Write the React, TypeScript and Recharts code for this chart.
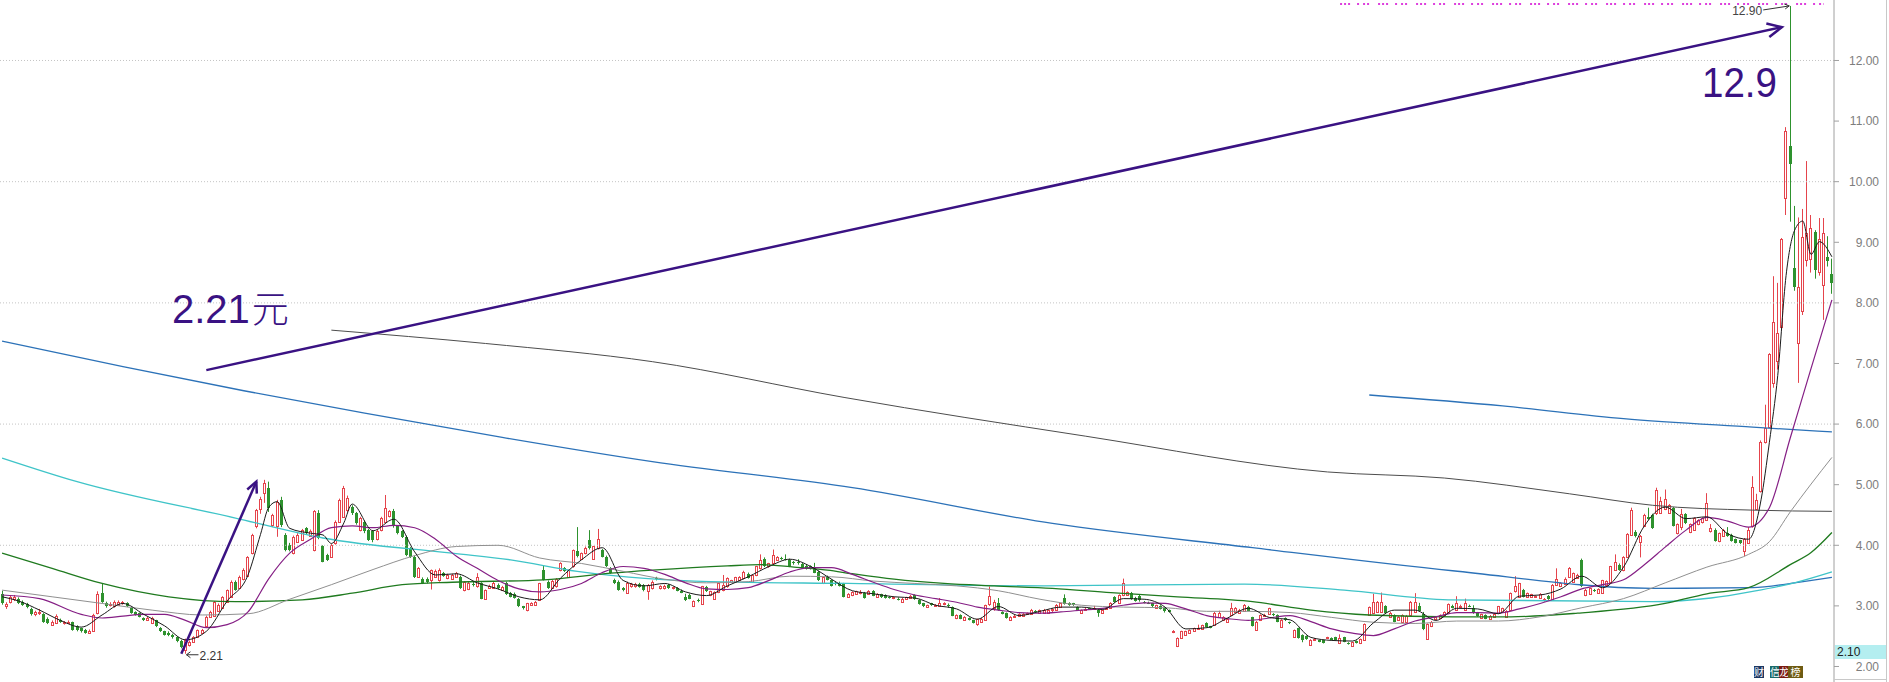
import React from 'react';
import { ComposedChart, Bar, Line, XAxis, YAxis, ReferenceLine, ReferenceDot } from 'recharts';

type Candle = [number, number, number, number]; // open, high, low, close
type Pt = [number, number]; // candle index, value

// daily candles left to right
const candlesA: Candle[] = [
  [3.20,3.25,3.02,3.05],[3.00,3.06,2.95,3.03],[3.06,3.17,3.04,3.14],[3.12,3.18,3.08,3.15],[3.12,3.14,3.03,3.05],
  [3.06,3.09,3.00,3.02],[3.03,3.05,2.96,2.98],[2.95,2.97,2.84,2.86],[2.86,2.92,2.83,2.90],[2.88,2.95,2.85,2.90],
  [2.87,2.88,2.72,2.74],[2.79,2.81,2.70,2.72],[2.69,2.76,2.67,2.74],[2.72,2.86,2.70,2.84],[2.77,2.79,2.72,2.74],
  [2.71,2.75,2.69,2.73],[2.73,2.76,2.71,2.74],[2.73,2.74,2.59,2.61],[2.66,2.68,2.58,2.60],[2.63,2.64,2.56,2.58],
  [2.61,2.62,2.54,2.56],[2.56,2.61,2.55,2.59],[2.58,2.87,2.57,2.85],[2.88,3.24,2.86,3.20],[3.21,3.37,3.05,3.07],
  [3.05,3.07,2.97,2.99],[3.01,3.06,2.99,3.03],[2.99,3.09,2.97,3.07],[3.02,3.09,3.00,3.07],[3.04,3.08,3.02,3.06],
  [3.05,3.06,2.98,3.00],[2.97,2.98,2.87,2.88],[2.90,2.91,2.84,2.85],[2.88,2.89,2.81,2.82],[2.80,2.81,2.75,2.76],
  [2.76,2.82,2.75,2.80],[2.72,2.82,2.70,2.80],[2.76,2.77,2.65,2.66],[2.64,2.65,2.57,2.58],[2.58,2.59,2.51,2.52],
  [2.56,2.58,2.50,2.52],[2.52,2.54,2.46,2.48],[2.48,2.50,2.40,2.42],[2.42,2.44,2.30,2.32],[2.27,2.46,2.21,2.44],
  [2.36,2.43,2.33,2.41],[2.41,2.50,2.39,2.49],[2.49,2.61,2.47,2.60],[2.56,2.62,2.55,2.60],[2.66,2.84,2.64,2.82],
];
const candlesB: Candle[] = [
  [2.82,2.92,2.80,2.90],[2.84,3.08,2.82,3.06],[2.92,3.04,2.90,3.02],[2.96,3.16,2.95,3.15],[3.07,3.27,3.06,3.26],
  [3.15,3.42,3.14,3.40],[3.40,3.42,3.25,3.27],[3.30,3.50,3.28,3.48],[3.45,3.62,3.42,3.59],[3.50,3.82,3.48,3.80],
  [3.87,4.19,3.85,4.17],[4.31,4.60,4.28,4.58],[4.60,4.80,4.52,4.76],[4.86,5.08,4.70,5.02],[4.95,5.05,4.55,4.62],
  [4.34,4.52,4.30,4.50],[4.31,4.75,4.14,4.72],[4.75,4.80,4.30,4.34],[4.17,4.20,3.90,3.92],[4.00,4.04,3.90,3.92],
  [3.87,4.16,3.85,4.14],[4.06,4.20,4.04,4.17],[4.09,4.27,4.07,4.25],[4.28,4.30,4.18,4.20],[4.16,4.26,4.14,4.24],
  [3.92,4.58,3.90,4.56],[4.53,4.58,4.10,4.12],[3.98,4.00,3.72,3.73],[3.84,3.86,3.74,3.76],[3.81,4.02,3.79,4.00],
  [4.03,4.41,4.01,4.39],[4.39,4.77,4.37,4.75],[4.47,4.98,4.45,4.94],[4.58,4.82,4.55,4.78],[4.64,4.66,4.50,4.53],
  [4.53,4.55,4.34,4.36],[4.25,4.47,4.23,4.45],[4.39,4.41,4.20,4.23],[4.25,4.27,4.07,4.09],[4.23,4.25,4.05,4.08],
  [4.10,4.26,4.08,4.24],[4.25,4.47,4.23,4.45],[4.39,4.83,4.37,4.61],[4.48,4.58,4.46,4.56],[4.56,4.60,4.29,4.31],
  [4.31,4.33,4.18,4.20],[4.23,4.25,4.12,4.14],[4.14,4.16,3.82,3.84],[3.95,3.97,3.79,3.81],[3.81,3.83,3.46,3.48],
];
const candlesC: Candle[] = [
  [3.48,3.64,3.46,3.62],[3.45,3.47,3.36,3.37],[3.45,3.47,3.37,3.40],[3.43,3.60,3.27,3.59],[3.48,3.60,3.46,3.58],
  [3.42,3.62,3.40,3.60],[3.54,3.56,3.48,3.50],[3.46,3.53,3.44,3.51],[3.45,3.53,3.43,3.51],[3.48,3.56,3.46,3.54],
  [3.48,3.50,3.28,3.29],[3.26,3.41,3.24,3.40],[3.28,3.40,3.26,3.38],[3.36,3.40,3.32,3.34],[3.32,3.54,3.30,3.47],
  [3.37,3.39,3.11,3.12],[3.11,3.27,3.10,3.26],[3.30,3.35,3.28,3.33],[3.30,3.40,3.29,3.38],[3.34,3.37,3.27,3.30],
  [3.27,3.33,3.25,3.31],[3.37,3.40,3.18,3.19],[3.21,3.23,3.14,3.15],[3.20,3.22,3.12,3.13],[3.12,3.13,2.98,2.99],
  [2.99,3.00,2.94,2.96],[2.93,3.05,2.91,3.04],[3.02,3.06,3.00,3.04],[3.02,3.08,3.00,3.07],[3.10,3.38,3.08,3.37],
  [3.59,3.67,3.42,3.43],[3.40,3.42,3.28,3.29],[3.30,3.43,3.29,3.41],[3.32,3.46,3.30,3.45],[3.59,3.72,3.57,3.70],
  [3.62,3.64,3.56,3.58],[3.48,3.60,3.46,3.59],[3.65,3.93,3.63,3.92],[3.90,4.30,3.80,3.82],[3.78,3.88,3.76,3.87],
  [3.87,3.98,3.85,3.96],[4.09,4.25,3.93,3.95],[3.78,3.99,3.76,3.98],[3.95,4.27,3.93,4.10],[3.92,3.94,3.80,3.81],
  [3.81,3.83,3.64,3.65],[3.62,3.64,3.53,3.54],[3.43,3.45,3.36,3.37],[3.40,3.42,3.25,3.26],[3.30,3.31,3.24,3.26],
];
const candlesD: Candle[] = [
  [3.22,3.40,3.20,3.38],[3.32,3.38,3.30,3.36],[3.32,3.38,3.30,3.36],[3.36,3.38,3.30,3.31],[3.34,3.36,3.24,3.26],
  [3.24,3.36,3.10,3.35],[3.29,3.42,3.27,3.40],[3.46,3.48,3.42,3.44],[3.30,3.34,3.27,3.32],[3.29,3.35,3.27,3.33],
  [3.34,3.36,3.28,3.29],[3.30,3.32,3.27,3.31],[3.29,3.31,3.24,3.25],[3.25,3.27,3.21,3.22],[3.15,3.20,3.08,3.10],
  [3.18,3.20,3.11,3.12],[3.00,3.09,2.98,3.08],[3.10,3.12,3.06,3.08],[3.03,3.33,3.02,3.32],[3.31,3.33,3.23,3.24],
  [3.18,3.25,3.16,3.24],[3.12,3.24,3.10,3.23],[3.23,3.38,3.21,3.37],[3.26,3.51,3.24,3.35],[3.32,3.47,3.30,3.46],
  [3.40,3.43,3.38,3.42],[3.40,3.48,3.38,3.47],[3.43,3.49,3.41,3.48],[3.46,3.58,3.44,3.56],[3.53,3.55,3.45,3.46],
  [3.40,3.52,3.38,3.51],[3.51,3.66,3.49,3.65],[3.62,3.85,3.60,3.76],[3.78,3.80,3.64,3.65],[3.65,3.71,3.63,3.70],
  [3.71,3.93,3.69,3.84],[3.76,3.82,3.74,3.80],[3.79,3.81,3.76,3.77],[3.78,3.85,3.75,3.76],[3.76,3.78,3.64,3.66],
  [3.72,3.74,3.68,3.70],[3.73,3.77,3.68,3.70],[3.69,3.71,3.61,3.62],[3.66,3.68,3.60,3.61],[3.65,3.67,3.60,3.61],
  [3.62,3.71,3.54,3.55],[3.56,3.58,3.41,3.42],[3.38,3.48,3.36,3.47],[3.48,3.50,3.42,3.43],[3.42,3.44,3.32,3.33],
];
const candlesE: Candle[] = [
  [3.38,3.40,3.34,3.36],[3.38,3.40,3.32,3.33],[3.36,3.38,3.14,3.15],[3.15,3.21,3.13,3.20],[3.18,3.24,3.16,3.23],
  [3.20,3.25,3.18,3.24],[3.21,3.26,3.19,3.23],[3.21,3.23,3.12,3.13],[3.20,3.26,3.18,3.25],[3.24,3.26,3.16,3.17],
  [3.15,3.21,3.13,3.20],[3.19,3.20,3.13,3.14],[3.18,3.19,3.12,3.13],[3.15,3.16,3.12,3.13],[3.13,3.15,3.11,3.14],
  [3.12,3.14,3.09,3.11],[3.07,3.13,3.05,3.12],[3.11,3.15,3.10,3.14],[3.13,3.18,3.12,3.17],[3.18,3.19,3.10,3.11],
  [3.10,3.11,3.02,3.03],[3.04,3.05,2.98,2.99],[2.98,3.02,2.97,3.01],[3.04,3.05,3.00,3.01],[3.01,3.03,2.99,3.02],
  [3.00,3.13,2.99,3.04],[3.03,3.06,3.01,3.04],[3.02,3.04,2.97,2.99],[2.98,2.99,2.83,2.84],[2.80,2.86,2.78,2.85],
  [2.85,2.86,2.78,2.79],[2.77,2.83,2.76,2.82],[2.80,2.81,2.76,2.77],[2.76,2.77,2.71,2.72],[2.70,2.79,2.67,2.78],
  [2.74,2.80,2.72,2.79],[2.77,3.02,2.76,3.01],[3.03,3.32,3.00,3.16],[2.96,3.10,2.92,3.07],[3.04,3.13,2.92,2.94],
  [2.90,2.91,2.86,2.87],[2.88,2.89,2.79,2.80],[2.77,2.83,2.76,2.82],[2.81,2.85,2.80,2.84],[2.83,2.88,2.82,2.87],
  [2.84,2.88,2.83,2.87],[2.87,2.89,2.85,2.88],[2.87,2.95,2.86,2.94],[2.92,2.93,2.89,2.91],[2.88,2.94,2.87,2.93],
];
const candlesF: Candle[] = [
  [2.89,2.95,2.88,2.94],[2.89,2.94,2.88,2.93],[2.93,2.96,2.90,2.95],[2.94,3.03,2.93,3.02],[2.98,3.05,2.97,3.04],
  [3.13,3.19,3.02,3.03],[3.05,3.06,3.00,3.01],[3.04,3.05,3.00,3.01],[2.98,2.99,2.93,2.94],[2.88,2.94,2.87,2.93],
  [2.94,2.97,2.93,2.95],[2.96,2.97,2.94,2.95],[2.96,3.00,2.94,2.97],[2.94,2.95,2.82,2.89],[2.88,2.94,2.87,2.93],
  [2.95,2.98,2.94,2.96],[2.96,3.06,2.95,3.05],[3.14,3.16,3.05,3.06],[3.04,3.19,3.03,3.18],[3.18,3.45,3.16,3.37],
  [3.18,3.24,3.17,3.23],[3.21,3.23,3.10,3.11],[3.13,3.15,3.07,3.08],[3.16,3.18,3.07,3.09],[3.06,3.08,3.04,3.05],
  [3.05,3.07,3.03,3.04],[3.04,3.05,2.98,2.99],[2.97,3.02,2.96,3.01],[3.00,3.01,2.94,2.95],[2.96,2.97,2.89,2.91],
  [2.93,2.94,2.89,2.90],[2.58,2.60,2.55,2.59],[2.33,2.48,2.32,2.47],[2.47,2.59,2.46,2.58],[2.52,2.59,2.51,2.58],
  [2.55,2.61,2.54,2.60],[2.58,2.64,2.57,2.63],[2.63,2.69,2.62,2.64],[2.62,2.69,2.61,2.68],[2.72,2.73,2.64,2.65],
  [2.66,2.67,2.63,2.64],[2.69,2.90,2.67,2.88],[2.82,2.92,2.80,2.88],[2.76,2.83,2.75,2.82],[2.74,2.80,2.73,2.79],
  [2.85,3.05,2.84,2.96],[2.90,2.98,2.88,2.97],[2.88,2.95,2.87,2.93],[2.91,3.03,2.90,3.02],[2.98,3.00,2.91,2.92],
];
const candlesG: Candle[] = [
  [2.81,2.82,2.66,2.67],[2.60,2.75,2.59,2.74],[2.76,2.86,2.75,2.85],[2.85,2.87,2.83,2.85],[2.87,2.97,2.86,2.96],
  [2.86,2.88,2.83,2.85],[2.85,2.86,2.73,2.74],[2.65,2.78,2.64,2.77],[2.80,2.81,2.75,2.76],[2.73,2.74,2.70,2.71],
  [2.49,2.61,2.48,2.60],[2.63,2.64,2.46,2.47],[2.52,2.53,2.40,2.43],[2.50,2.51,2.44,2.45],[2.36,2.45,2.35,2.44],
  [2.44,2.47,2.42,2.45],[2.43,2.44,2.40,2.41],[2.43,2.44,2.38,2.39],[2.47,2.49,2.46,2.48],[2.47,2.48,2.43,2.44],
  [2.48,2.49,2.43,2.44],[2.38,2.53,2.37,2.47],[2.48,2.49,2.40,2.41],[2.39,2.40,2.36,2.37],[2.34,2.41,2.33,2.40],
  [2.42,2.43,2.38,2.39],[2.38,2.46,2.37,2.45],[2.44,2.71,2.43,2.70],[2.85,2.99,2.84,2.98],[2.88,3.20,2.87,3.07],
  [2.90,3.08,2.89,3.07],[2.90,3.22,2.89,3.07],[2.99,3.01,2.87,2.88],[2.82,2.90,2.81,2.89],[2.85,2.86,2.73,2.74],
  [2.77,2.83,2.76,2.82],[2.74,2.86,2.73,2.85],[2.74,2.85,2.73,2.84],[2.85,3.08,2.84,3.07],[2.90,3.21,2.89,3.07],
  [2.99,3.05,2.90,2.91],[2.87,2.90,2.60,2.62],[2.45,2.71,2.44,2.70],[2.66,2.75,2.65,2.74],[2.78,2.83,2.77,2.82],
  [2.80,2.86,2.79,2.85],[2.85,2.91,2.84,2.90],[2.89,3.04,2.88,3.03],[3.00,3.02,2.96,2.97],[2.93,3.16,2.92,3.04],
];
const candlesH: Candle[] = [
  [3.00,3.02,2.98,3.00],[2.93,3.12,2.92,3.04],[3.00,3.02,2.98,2.99],[2.96,3.01,2.87,2.88],[2.89,2.90,2.82,2.83],
  [2.80,2.87,2.79,2.86],[2.85,2.86,2.78,2.79],[2.79,2.85,2.78,2.84],[2.81,2.88,2.80,2.87],[2.88,3.00,2.87,2.99],
  [2.90,2.97,2.89,2.96],[2.82,2.93,2.81,2.92],[2.93,3.22,2.92,3.21],[3.24,3.49,3.22,3.32],[3.15,3.38,3.14,3.37],
  [3.26,3.28,3.14,3.15],[3.15,3.22,3.14,3.21],[3.14,3.20,3.13,3.19],[3.15,3.17,3.13,3.16],[3.13,3.21,3.12,3.20],
  [3.10,3.13,3.07,3.12],[3.16,3.18,3.10,3.11],[3.10,3.36,3.09,3.35],[3.35,3.62,3.34,3.44],[3.32,3.39,3.31,3.38],
  [3.36,3.47,3.35,3.45],[3.48,3.64,3.47,3.62],[3.40,3.55,3.39,3.54],[3.46,3.53,3.45,3.51],[3.76,3.78,3.31,3.32],
  [3.18,3.28,3.16,3.27],[3.20,3.30,3.18,3.29],[3.27,3.28,3.23,3.24],[3.22,3.29,3.21,3.28],[3.22,3.43,3.21,3.42],
  [3.35,3.42,3.34,3.41],[3.40,3.66,3.39,3.65],[3.59,3.85,3.58,3.73],[3.68,3.70,3.58,3.59],[3.59,3.82,3.57,3.81],
  [3.81,4.20,3.80,4.19],[4.17,4.62,4.16,4.59],[4.22,4.25,4.13,4.15],[4.06,4.17,3.80,4.15],[4.31,4.52,4.30,4.50],
  [4.47,4.62,4.42,4.44],[4.50,4.52,4.27,4.28],[4.54,4.95,4.50,4.92],[4.54,4.80,4.52,4.73],[4.60,4.92,4.58,4.76],
];
const candlesI: Candle[] = [
  [4.54,4.68,4.52,4.66],[4.61,4.63,4.31,4.32],[4.20,4.36,4.18,4.35],[4.30,4.60,4.25,4.51],[4.51,4.53,4.35,4.36],
  [4.22,4.36,4.20,4.35],[4.26,4.46,4.24,4.45],[4.35,4.43,4.33,4.42],[4.38,4.46,4.36,4.45],[4.42,4.86,4.40,4.70],
  [4.23,4.35,4.21,4.29],[4.26,4.28,4.06,4.07],[4.07,4.21,4.05,4.20],[4.16,4.27,4.14,4.26],[4.20,4.30,4.14,4.15],
  [4.17,4.19,4.06,4.07],[4.10,4.11,4.03,4.04],[4.08,4.09,4.02,4.04],[3.90,4.12,3.82,4.10],[4.04,4.30,4.02,4.26],
  [4.31,5.14,4.29,4.96],[4.60,4.85,4.58,4.74],[4.89,5.73,4.87,5.71],[5.71,6.32,5.68,5.93],[5.96,7.17,5.94,7.15],
  [6.68,8.44,6.60,7.69],[7.04,8.33,6.90,7.51],[7.61,9.07,7.55,9.05],[9.73,10.90,9.45,10.84],[10.59,12.90,9.34,10.30],
  [8.58,9.60,8.20,8.26],[7.33,9.41,6.68,8.26],[7.86,9.55,7.80,9.08],[8.70,10.34,8.60,9.15],[8.73,9.45,8.50,9.23],
  [9.17,9.20,8.40,8.55],[8.51,9.40,8.45,9.05],[8.30,9.40,7.72,9.16],[8.76,9.10,8.60,8.69],[8.47,8.73,8.15,8.33],
];

// moving averages at a few candles each
const ma5Pts: Pt[] = [
  [0,3.15],[4,3.08],[9,2.93],[14,2.76],[19,2.65],[24,2.85],[29,3.04],[34,2.86],[39,2.67],[44,2.44],[49,2.58],
  [54,3.08],[59,3.51],[62,4.18],[64,4.63],[66,4.72],[69,4.28],[74,4.20],[77,4.17],[79,4.03],[82,4.37],[84,4.68],
  [89,4.24],[94,4.43],[99,3.89],[104,3.51],[109,3.53],[114,3.38],[119,3.28],[124,3.15],[129,3.10],[134,3.46],
  [139,3.76],[144,3.96],[149,3.42],[154,3.33],[159,3.37],[164,3.23],[169,3.17],[174,3.33],[179,3.48],[184,3.65],
  [189,3.77],[194,3.65],[199,3.44],[204,3.25],[209,3.20],[214,3.15],[219,3.13],[224,3.01],[229,2.95],[234,2.78],
  [239,2.99],[244,2.84],[249,2.91],[254,2.98],[259,2.98],[264,2.94],[269,3.12],[274,3.11],[279,2.98],[284,2.62],
  [289,2.64],[294,2.80],[299,2.96],[304,2.81],[309,2.77],[314,2.48],[319,2.43],[324,2.42],[329,2.72],[334,2.93],
  [339,2.93],[344,2.76],[349,2.96],[354,2.95],[359,2.87],[364,3.16],[369,3.18],[374,3.28],[379,3.49],[384,3.30],
  [389,3.64],[394,4.32],[399,4.63],[404,4.44],[409,4.47],[414,4.19],[419,4.10],[422,4.75],[424,5.70],[426,6.80],
  [428,8.45],[430,9.19],[432,9.35],[434,8.80],[436,9.01],[439,8.76],
];
const ma20Pts: Pt[] = [
  [0,3.18],[9,3.12],[19,2.86],[24,2.80],[29,2.83],[34,2.86],[39,2.86],[44,2.76],[49,2.64],[54,2.69],[59,2.90],
  [64,3.45],[69,3.87],[74,4.10],[79,4.29],[84,4.32],[89,4.29],[94,4.33],[99,4.29],[104,4.10],[109,3.82],[114,3.62],
  [119,3.42],[124,3.28],[129,3.23],[134,3.27],[139,3.37],[144,3.55],[149,3.65],[154,3.62],[159,3.52],[164,3.38],
  [169,3.28],[174,3.27],[179,3.30],[184,3.42],[189,3.56],[194,3.63],[199,3.63],[204,3.52],[209,3.39],[214,3.27],
  [219,3.18],[224,3.12],[229,3.06],[234,2.98],[239,2.93],[244,2.89],[249,2.88],[254,2.90],[259,2.93],[264,2.96],
  [269,3.01],[274,3.05],[279,3.04],[284,2.95],[289,2.84],[294,2.79],[299,2.76],[304,2.80],[309,2.84],[314,2.74],
  [319,2.62],[324,2.55],[329,2.51],[334,2.62],[339,2.75],[344,2.82],[349,2.89],[354,2.89],[359,2.88],[364,2.95],
  [369,3.04],[374,3.15],[379,3.28],[384,3.35],[389,3.43],[394,3.68],[399,3.97],[404,4.25],[409,4.46],[414,4.40],
  [419,4.30],[424,4.62],[429,5.77],[434,6.92],[439,8.05],
];
const ma60Pts: Pt[] = [
  [0,3.26],[12,3.15],[24,3.04],[36,2.93],[48,2.85],[59,2.87],[69,3.11],[79,3.35],[89,3.60],[99,3.83],[109,3.98],
  [119,4.00],[129,3.79],[139,3.70],[149,3.57],[159,3.44],[169,3.38],[179,3.40],[189,3.49],[199,3.48],[209,3.41],
  [219,3.37],[229,3.33],[239,3.25],[249,3.11],[259,3.01],[269,2.98],[279,2.97],[289,2.91],[299,2.91],[309,2.89],
  [319,2.81],[329,2.73],[339,2.71],[349,2.75],[359,2.75],[369,2.82],[379,2.97],[389,3.12],[399,3.38],[409,3.64],
  [419,3.85],[424,4.06],[429,4.55],[434,5.01],[439,5.45],
];
const ma120Pts: Pt[] = [
  [0,3.87],[12,3.62],[24,3.37],[40,3.15],[56,3.07],[72,3.10],[84,3.21],[96,3.35],[108,3.39],[130,3.43],[146,3.54],
  [156,3.59],[174,3.66],[182,3.68],[190,3.64],[198,3.59],[204,3.53],[214,3.44],[226,3.37],[238,3.33],[252,3.29],
  [266,3.22],[282,3.15],[300,3.07],[314,2.93],[328,2.85],[348,2.82],[362,2.82],[378,2.88],[399,3.04],[409,3.20],
  [419,3.30],[429,3.68],[434,3.88],[439,4.21],
];
const ma250Pts: Pt[] = [
  [0,5.44],[18,5.05],[56,4.45],[77,4.12],[108,3.87],[122,3.76],[138,3.57],[155,3.45],[170,3.40],[203,3.37],
  [250,3.33],[298,3.36],[322,3.26],[347,3.10],[396,3.07],[410,3.13],[420,3.24],[430,3.38],[439,3.56],
];
const ma500Pts: Pt[] = [
  [0,7.37],[29,6.95],[58,6.55],[87,6.18],[120,5.78],[156,5.38],[204,4.95],[252,4.36],[300,3.96],[348,3.58],
  [396,3.29],[420,3.30],[430,3.38],[439,3.47],
];
const longGrayPts: Pt[] = [
  [79,7.55],[116,7.33],[156,7.03],[202,6.44],[260,5.80],[318,5.21],[346,5.11],[376,4.85],[396,4.66],[420,4.58],
  [439,4.56],
];
const longBluePts: Pt[] = [[328,6.48],[360,6.30],[389,6.09],[420,5.95],[439,5.87]];

const yTicks = [2, 3, 4, 5, 6, 7, 8, 9, 10, 11, 12];
const gridLevels = [4, 6, 8, 10, 12];

const lowMark = { i: 44, v: 2.21, text: '2.21' };
const highMark = { i: 429, v: 12.9, text: '12.90' };
const bigArrow: [Pt, Pt] = [[49, 6.89], [427, 12.55]];
const smallArrow: [Pt, Pt] = [[43, 2.21], [61, 5.05]];
const signalRow = { from: 321, to: 437, v: 12.93 };

const UP = '#e5444c';
const DOWN = '#2e922e';
const INK = '#3a1283';
const SANS = "'Liberation Sans', Arial, sans-serif";

const candles: Candle[] = [
  ...candlesA, ...candlesB, ...candlesC, ...candlesD, ...candlesE,
  ...candlesF, ...candlesG, ...candlesH, ...candlesI,
];

const lines: { key: string; pts: Pt[]; color: string; w: number }[] = [
  { key: 'ma500', pts: ma500Pts, color: '#2c72b8', w: 1.3 },
  { key: 'longBlue', pts: longBluePts, color: '#2c72b8', w: 1.3 },
  { key: 'longGray', pts: longGrayPts, color: '#4d4d4d', w: 1 },
  { key: 'ma250', pts: ma250Pts, color: '#3fc4c8', w: 1.3 },
  { key: 'ma120', pts: ma120Pts, color: '#1f7a1f', w: 1.3 },
  { key: 'ma60', pts: ma60Pts, color: '#909090', w: 1 },
  { key: 'ma20', pts: ma20Pts, color: '#851f85', w: 1.2 },
  { key: 'ma5', pts: ma5Pts, color: '#1a1a1a', w: 1 },
];

const data: any[] = candles.map(([o, h, l, c], i) => {
  const row: any = { i, o, h, l, c, range: [l, h] };
  lines.forEach((s) => { row[s.key] = null; });
  return row;
});
lines.forEach((s) => s.pts.forEach(([i, v]) => { data[i][s.key] = v; }));

function CandleShape(props: any) {
  const { x, y, width, height, index } = props;
  const d = props.payload && props.payload.h !== undefined ? props.payload : data[index];
  if (!d || !isFinite(y) || !isFinite(height)) return <g />;
  const span = d.h - d.l;
  const toY = (v: number) => (span > 0 ? y + ((d.h - v) / span) * height : y);
  const cx = Math.floor(x + width / 2);
  const wx = cx + 0.5;
  const yTop = Math.round(toY(Math.max(d.o, d.c)));
  const yBot = Math.round(toY(Math.min(d.o, d.c)));
  const bodyH = Math.max(yBot - yTop, 1);
  if (d.c >= d.o) {
    return (
      <g>
        <line x1={wx} x2={wx} y1={toY(d.h)} y2={yTop} stroke={UP} />
        <line x1={wx} x2={wx} y1={yTop + bodyH} y2={toY(d.l)} stroke={UP} />
        <rect x={cx - 0.5} y={yTop + 0.5} width={2} height={bodyH} fill="#fff" stroke={UP} strokeWidth={1} />
      </g>
    );
  }
  return (
    <g>
      <line x1={wx} x2={wx} y1={toY(d.h)} y2={toY(d.l)} stroke={DOWN} />
      <rect x={cx - 1} y={yTop} width={3} height={bodyH} fill={DOWN} />
    </g>
  );
}

const arrowShape = (head: number, width: number) => (p: any) => {
  const { x1, y1, x2, y2 } = p;
  const a = Math.atan2(y2 - y1, x2 - x1);
  const hx1 = x2 - head * Math.cos(a - 0.45);
  const hy1 = y2 - head * Math.sin(a - 0.45);
  const hx2 = x2 - head * Math.cos(a + 0.45);
  const hy2 = y2 - head * Math.sin(a + 0.45);
  return (
    <g>
      <line x1={x1} y1={y1} x2={x2} y2={y2} stroke={INK} strokeWidth={width} />
      <polyline points={`${hx1},${hy1} ${x2},${y2} ${hx2},${hy2}`} fill="none" stroke={INK} strokeWidth={width} />
    </g>
  );
};

const LowLabel = (p: any) => (
  <g>
    <line x1={p.cx + 1} y1={p.cy + 1} x2={p.cx + 13} y2={p.cy + 1} stroke="#333" />
    <polyline points={`${p.cx + 5},${p.cy - 2} ${p.cx + 1},${p.cy + 1} ${p.cx + 5},${p.cy + 4}`} fill="none" stroke="#333" />
    <text x={p.cx + 14} y={p.cy + 6} fontSize={12} fill="#333" fontFamily={SANS}>{lowMark.text}</text>
  </g>
);

const HighLabel = (p: any) => (
  <g>
    <line x1={p.cx - 27} y1={p.cy + 4} x2={p.cx - 1} y2={p.cy} stroke="#333" />
    <polyline points={`${p.cx - 6},${p.cy - 2} ${p.cx - 1},${p.cy} ${p.cx - 5},${p.cy + 3}`} fill="none" stroke="#333" />
    <text x={p.cx - 28} y={p.cy + 9} fontSize={12} fill="#444" textAnchor="end" fontFamily={SANS}>{highMark.text}</text>
  </g>
);

const PriceTick = (p: any) => (
  <text x={p.x + 38} y={p.y} dy="0.355em" textAnchor="end" fontSize={12} fill="#7d7d7d" fontFamily={SANS}>
    {Number(p.payload.value).toFixed(2)}
  </text>
);

const badge = (left: number, w: number, bg: string, t: string) => (
  <div style={{ position: 'absolute', left, top: 666, width: w, height: 12, background: bg, color: '#fff', fontSize: 10, lineHeight: '12px', textAlign: 'center', fontFamily: "'Noto Sans CJK SC', sans-serif" }}>{t}</div>
);

export default function App() {
  return (
    <div style={{ position: 'absolute', left: 0, top: 0, width: 1889, height: 682, background: '#fff', overflow: 'hidden' }}>
      <ComposedChart width={1889} height={682} data={data} margin={{ top: 0, right: 0, bottom: 0, left: 0 }} barCategoryGap={0}>
        <XAxis dataKey="i" hide />
        <YAxis
          orientation="right"
          width={55}
          domain={[1.744, 12.998]}
          allowDataOverflow
          ticks={yTicks}
          interval={0}
          tickSize={5}
          axisLine={{ stroke: '#a0a0a0' }}
          tickLine={{ stroke: '#a0a0a0' }}
          tick={PriceTick}
        />
        {gridLevels.map((v) => (
          <ReferenceLine key={v} y={v} stroke="#c4c4c4" strokeDasharray="1 2" />
        ))}
        <Bar dataKey="range" shape={CandleShape} isAnimationActive={false} />
        {lines.map((s) => (
          <Line key={s.key} type="monotone" dataKey={s.key} stroke={s.color} strokeWidth={s.w} dot={false} activeDot={false} connectNulls isAnimationActive={false} />
        ))}
        <ReferenceLine
          segment={[{ x: signalRow.from, y: signalRow.v }, { x: signalRow.to, y: signalRow.v }]}
          stroke="#dd3fdd" strokeWidth={2} strokeDasharray="2 2 2 2 2 7 2 4 2 2 2 9" ifOverflow="visible"
        />
        <ReferenceLine
          segment={[{ x: bigArrow[0][0], y: bigArrow[0][1] }, { x: bigArrow[1][0], y: bigArrow[1][1] }]}
          shape={arrowShape(16, 2.5)} ifOverflow="visible"
        />
        <ReferenceLine
          segment={[{ x: smallArrow[0][0], y: smallArrow[0][1] }, { x: smallArrow[1][0], y: smallArrow[1][1] }]}
          shape={arrowShape(12, 2.5)} ifOverflow="visible"
        />
        <ReferenceDot x={lowMark.i} y={lowMark.v} r={1} shape={LowLabel} ifOverflow="visible" />
        <ReferenceDot x={highMark.i} y={highMark.v} r={1} shape={HighLabel} ifOverflow="visible" />
      </ComposedChart>

      <svg width={1889} height={682} style={{ position: 'absolute', left: 0, top: 0, pointerEvents: 'none' }}>
        <text x={172} y={323} fontSize={40} fill={INK} fontFamily={SANS}>
          2.21
          <tspan dx={2} fontSize={37} fontWeight={300} fontFamily="'Noto Sans CJK SC', sans-serif">元</tspan>
        </text>
        <text x={1702} y={97} fontSize={43} textLength={75} lengthAdjust="spacingAndGlyphs" fill={INK} fontFamily={SANS}>12.9</text>
        <line x1={1886.5} y1={0} x2={1886.5} y2={682} stroke="#c8c8c8" />
        <line x1={1834} y1={679.5} x2={1887} y2={679.5} stroke="#c8c8c8" />
      </svg>

      <div style={{ position: 'absolute', left: 1835, top: 645, width: 51, height: 14, background: '#b4eef0', color: '#222', fontSize: 12, lineHeight: '14px', paddingLeft: 2, boxSizing: 'border-box', fontFamily: SANS }}>2.10</div>
      {badge(1754, 10, '#1c3763', '财')}
      {badge(1770, 9, '#1b6b6b', '信')}
      {badge(1779, 9, '#7a1a12', '龙')}
      {badge(1788, 15, '#6e5b12', '榜')}
    </div>
  );
}
